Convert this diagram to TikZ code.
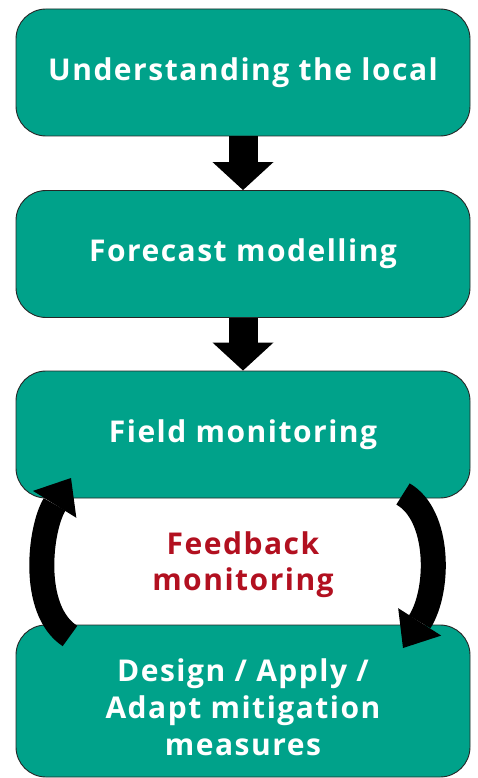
\documentclass[tikz,border=0pt]{standalone}
\usepackage{fontspec}
\setmainfont[LetterSpace=5]{Open Sans}
\usetikzlibrary{arrows.meta}
\definecolor{teal}{RGB}{0,162,138}
\definecolor{fbred}{RGB}{178,16,32}
\tikzset{
  box/.style={draw=black!85, line width=0.9pt, fill=teal, rounded corners=30pt,
    minimum width=454pt, minimum height=127pt, inner sep=0pt,
    text=white, font=\bfseries\fontsize{30}{37}\selectfont, align=center},
  downarrow/.style={line width=29pt, -{Triangle[width=61pt,length=28pt,line width=0pt]}},
  looparrow/.style={line width=25pt, -{Triangle[width=51pt,length=31pt,line width=0pt]}},
  fbtext/.style={text=fbred, font=\bfseries\fontsize{30}{36}\selectfont, align=center}
}
\begin{document}
\begin{tikzpicture}[x=1pt,y=-1pt]
\useasboundingbox (0,0) rectangle (478,778);
\node[box] (b1) at (243,72.5) {Understanding the local};
\node[box] (b2) at (243,254) {Forecast modelling};
\node[box] (b3) at (243,434.5) {Field monitoring};
\node[box, minimum height=152pt] (b4) at (243,701) {};
\node[box, draw=none, fill=none, minimum width=0pt, minimum height=0pt] (t4) at (243,707) {Design / Apply /\\Adapt mitigation\\measures};
\node[fbtext] (fb) at (243,565) {Feedback\\monitoring};
\draw[downarrow] (b1.south) -- (b2.north);
\draw[downarrow] (b2.south) -- (b3.north);
\coordinate (ls) at (70,636);
\coordinate (le) at (71,478);
\coordinate (rs) at (403,494);
\coordinate (re) at (403,648);
\draw[looparrow] (ls) .. controls (30,610) and (40,528) .. (le);
\draw[looparrow] (rs) .. controls (440,515) and (440,590) .. (re);
\end{tikzpicture}
\end{document}
